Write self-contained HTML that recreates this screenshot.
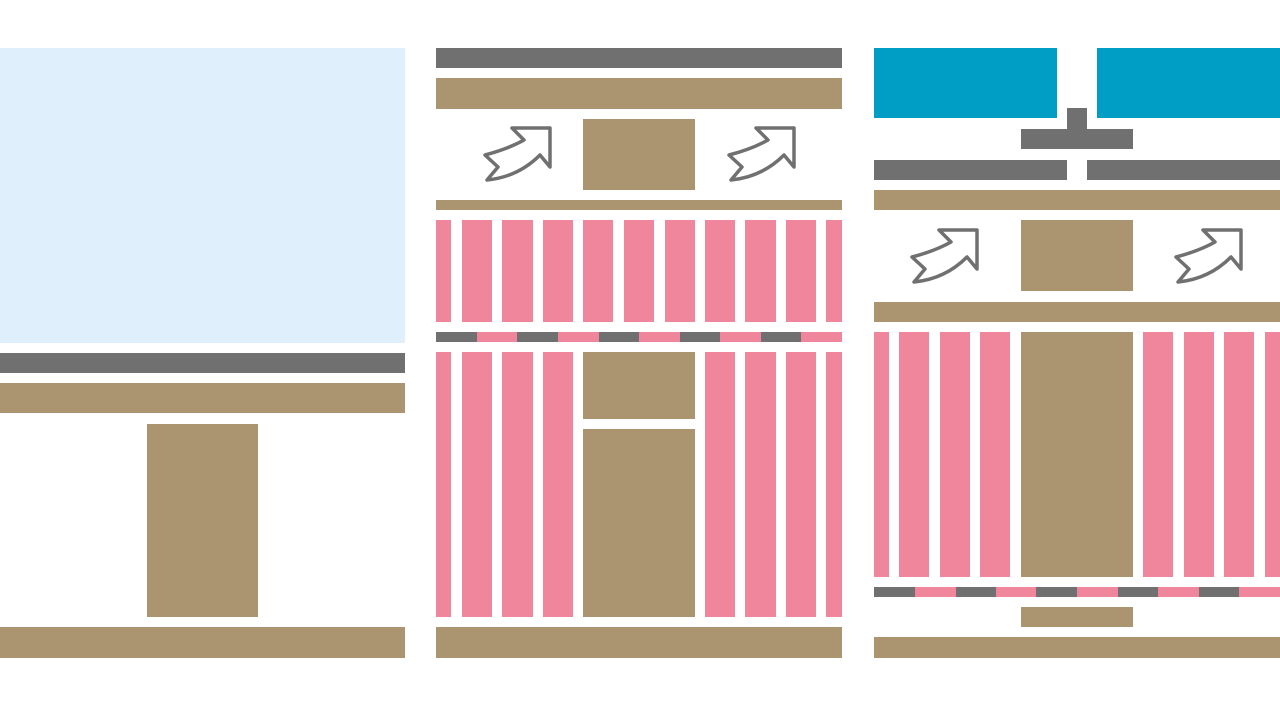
<!DOCTYPE html>
<html><head><style>html,body{margin:0;padding:0;background:#fff;}svg{display:block}</style></head>
<body>
<svg width="1280" height="706" viewBox="0 0 1280 706" xmlns="http://www.w3.org/2000/svg">
<defs>
<path id="arr" d="M29,1 L67,1 L67,40 L57,28 Q35,50 4,53 L15,40 L2,28 Q25,22 41,13 Z" fill="#fff" stroke="#707070" stroke-width="3.5" stroke-linejoin="round"/>
</defs>
<!-- Left panel -->
<rect x="0" y="48" width="405" height="295" fill="#dff0fc"/>
<rect x="0" y="353" width="405" height="20" fill="#707070"/>
<rect x="0" y="383" width="405" height="30" fill="#ab9470"/>
<rect x="147" y="424" width="111" height="193" fill="#ab9470"/>
<rect x="0" y="627" width="405" height="31" fill="#ab9470"/>

<!-- Middle panel -->
<rect x="436" y="48" width="406" height="20" fill="#707070"/>
<rect x="436" y="78" width="406" height="31" fill="#ab9470"/>
<rect x="583" y="119" width="112" height="71" fill="#ab9470"/>
<use href="#arr" x="483" y="127"/>
<use href="#arr" x="727" y="127"/>
<rect x="436" y="200" width="406" height="10" fill="#ab9470"/>
<g fill="#f0869c">
<rect x="436" y="220" width="15" height="102"/><rect x="462" y="220" width="30" height="102"/><rect x="502" y="220" width="31" height="102"/><rect x="543" y="220" width="30" height="102"/><rect x="583" y="220" width="30" height="102"/><rect x="624" y="220" width="30" height="102"/><rect x="665" y="220" width="30" height="102"/><rect x="705" y="220" width="30" height="102"/><rect x="745" y="220" width="31" height="102"/><rect x="786" y="220" width="30" height="102"/><rect x="826" y="220" width="16" height="102"/>
<rect x="436" y="352" width="15" height="265"/><rect x="462" y="352" width="30" height="265"/><rect x="502" y="352" width="31" height="265"/><rect x="543" y="352" width="30" height="265"/><rect x="705" y="352" width="30" height="265"/><rect x="745" y="352" width="31" height="265"/><rect x="786" y="352" width="30" height="265"/><rect x="826" y="352" width="16" height="265"/>
<rect x="436" y="332" width="406" height="10"/>
</g>
<g fill="#707070">
<rect x="436" y="332" width="41" height="10"/><rect x="517" y="332" width="41" height="10"/><rect x="599" y="332" width="40" height="10"/><rect x="680" y="332" width="40" height="10"/><rect x="761" y="332" width="40" height="10"/>
</g>
<rect x="583" y="352" width="112" height="67" fill="#ab9470"/>
<rect x="583" y="429" width="112" height="188" fill="#ab9470"/>
<rect x="436" y="627" width="406" height="31" fill="#ab9470"/>

<!-- Right panel -->
<rect x="874" y="48" width="183" height="70" fill="#009dc4"/>
<rect x="1097" y="48" width="183" height="70" fill="#009dc4"/>
<rect x="1067" y="108" width="20" height="22" fill="#707070"/>
<rect x="1021" y="129" width="112" height="20" fill="#707070"/>
<rect x="874" y="160" width="193" height="20" fill="#707070"/>
<rect x="1087" y="160" width="193" height="20" fill="#707070"/>
<rect x="874" y="190" width="406" height="20" fill="#ab9470"/>
<rect x="1021" y="220" width="112" height="71" fill="#ab9470"/>
<use href="#arr" x="910" y="229"/>
<use href="#arr" x="1174" y="229"/>
<rect x="874" y="302" width="406" height="20" fill="#ab9470"/>
<g fill="#f0869c">
<rect x="874" y="332" width="15" height="245"/><rect x="899" y="332" width="30" height="245"/><rect x="940" y="332" width="30" height="245"/><rect x="980" y="332" width="30" height="245"/>
<rect x="1143" y="332" width="30" height="245"/><rect x="1184" y="332" width="30" height="245"/><rect x="1224" y="332" width="30" height="245"/><rect x="1265" y="332" width="15" height="245"/>
<rect x="874" y="587" width="406" height="10"/>
</g>
<rect x="1021" y="332" width="112" height="245" fill="#ab9470"/>
<g fill="#707070">
<rect x="874" y="587" width="41" height="10"/><rect x="956" y="587" width="40" height="10"/><rect x="1036" y="587" width="41" height="10"/><rect x="1118" y="587" width="40" height="10"/><rect x="1199" y="587" width="40" height="10"/>
</g>
<rect x="1021" y="607" width="112" height="20" fill="#ab9470"/>
<rect x="874" y="637" width="406" height="21" fill="#ab9470"/>
</svg>
</body></html>
